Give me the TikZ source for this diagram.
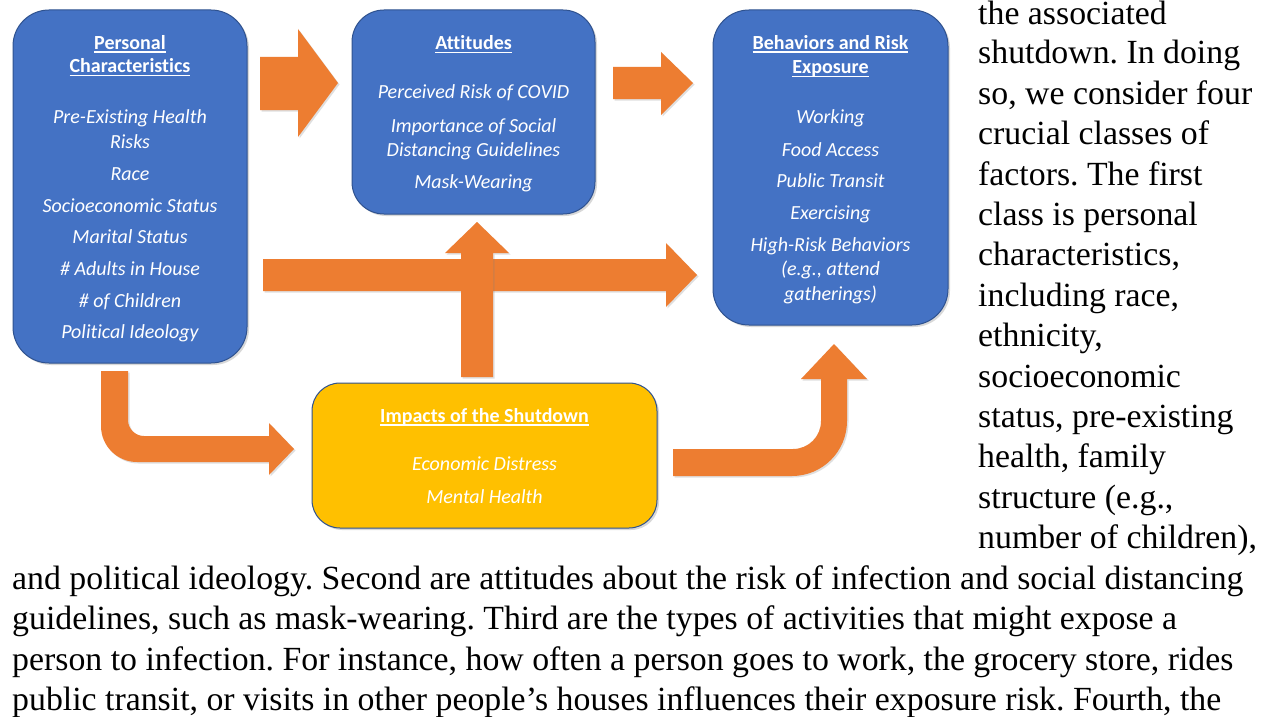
\documentclass[tikz,border=0pt]{standalone}
\usepackage{fontspec}
\setmainfont{Liberation Serif}
\newfontfamily\calfont[Ligatures={NoCommon}]{Carlito}
\usetikzlibrary{shadows}
\definecolor{boxblue}{HTML}{4472C4}
\definecolor{boxedge}{HTML}{2F528F}
\definecolor{boxyellow}{HTML}{FFC000}
\definecolor{arroworange}{HTML}{ED7D31}
\newcommand\myul[1]{\setbox0\hbox{#1}\rlap{\rule[-3.5pt]{\wd0}{1.1pt}}\box0}
\frenchspacing
\begin{document}
\begin{tikzpicture}[x=1pt,y=-1pt,
  box/.style={draw=boxedge, line width=1pt, minimum width=#1, inner sep=0pt,
    drop shadow={shadow xshift=2pt,shadow yshift=-2pt,opacity=.3}},
  bluebox/.style={box=#1, fill=boxblue},
  yellowbox/.style={box=#1, fill=boxyellow},
  ttl/.style={text=white, font=\calfont\bfseries\fontsize{20}{24}\selectfont, anchor=base, inner sep=0pt},
  itm/.style={text=white, font=\calfont\itshape\fontsize{20}{24}\selectfont, anchor=base, inner sep=0pt},
  body/.style={font=\fontsize{33.8}{40}\selectfont, anchor=base west, inner sep=0pt},
  blockarrow/.style={fill=arroworange, drop shadow={shadow xshift=1.5pt,shadow yshift=-1.5pt,opacity=.25}}
]
\useasboundingbox[fill=white] (0,0) rectangle (1269,717);

% arrows
\fill[blockarrow] (260,57) -- (298,57) -- (298,29) -- (338,83) -- (298,137) -- (298,110) -- (260,110) -- cycle;
\fill[blockarrow] (613,67) -- (661,67) -- (661,52) -- (693,83) -- (661,115) -- (661,99) -- (613,99) -- cycle;
\fill[blockarrow] (263,259) -- (666,259) -- (666,243) -- (697,275) -- (666,307) -- (666,291) -- (263,291) -- cycle;
\fill[blockarrow] (461,377) -- (461,253) -- (445,253) -- (477,222) -- (509,253) -- (493,253) -- (493,377) -- cycle;
\fill[blockarrow] (101,371) -- (128,371) -- (128,420) .. controls (128,428.8) and (135.2,436) .. (144,436) -- (269,436) -- (269,423) -- (294,449) -- (269,475) -- (269,462) -- (137,462) .. controls (117.1,462) and (101,445.9) .. (101,426) -- cycle;
\fill[blockarrow] (673,449) -- (793,449) .. controls (808.5,449) and (821,436.5) .. (821,421) -- (821,379) -- (801,379) -- (834,344) -- (867,379) -- (847,379) -- (847,421) .. controls (847,451.4) and (822.4,476) .. (792,476) -- (673,476) -- cycle;

% boxes
\node[bluebox=234pt, minimum height=353pt, rounded corners=36pt] (pc) at (130,186.5) {};
\node[bluebox=243pt, minimum height=204pt, rounded corners=32pt] (at) at (473.5,112) {};
\node[bluebox=235pt, minimum height=315pt, rounded corners=36pt] (be) at (830.5,167.5) {};
\node[yellowbox=345pt, minimum height=145pt, rounded corners=28pt] (im) at (484.5,455.5) {};

% personal characteristics
\node[ttl] (pc1) at (130,49) {\myul{Personal}};
\node[ttl] (pc2) at (130,73) {\myul{Characteristics}};
\node[itm] (pc3) at (130,123) {Pre-Existing Health};
\node[itm] (pc4) at (130,148) {Risks};
\node[itm] (pc5) at (130,180) {Race};
\node[itm] (pc6) at (130,212) {Socioeconomic Status};
\node[itm] (pc7) at (130,243) {Marital Status};
\node[itm] (pc8) at (130,275) {\# Adults in House};
\node[itm] (pc9) at (130,307) {\# of Children};
\node[itm] (pc10) at (130,338) {Political Ideology};

% attitudes
\node[ttl] (at1) at (473.5,50) {\myul{Attitudes}};
\node[itm] (at2) at (473.5,99) {Perceived Risk of COVID};
\node[itm] (at3) at (473.5,132) {Importance of Social};
\node[itm] (at4) at (473.5,156) {Distancing Guidelines};
\node[itm] (at5) at (473.5,188) {Mask-Wearing};

% behaviors
\node[ttl] (be1) at (830.5,49) {\myul{Behaviors and Risk}};
\node[ttl] (be2) at (830.5,74) {\myul{Exposure}};
\node[itm] (be3) at (830.5,123) {Working};
\node[itm] (be4) at (830.5,156) {Food Access};
\node[itm] (be5) at (830.5,187) {Public Transit};
\node[itm] (be6) at (830.5,219) {Exercising};
\node[itm] (be7) at (830.5,251) {High-Risk Behaviors};
\node[itm] (be8) at (830.5,275) {(e.g., attend};
\node[itm] (be9) at (830.5,300) {gatherings)};

% impacts
\node[ttl] (im1) at (484.5,422) {\myul{Impacts of the Shutdown}};
\node[itm] (im2) at (484.5,470) {Economic Distress};
\node[itm] (im3) at (484.5,503) {Mental Health};

% body text
\node[body] (t1) at (978,24.5) {the associated};
\node[body] (t2) at (978,63.5) {shutdown. In doing};
\node[body] (t3) at (978,104) {so, we consider four};
\node[body] (t4) at (978,144) {crucial classes of};
\node[body] (t5) at (978,185) {factors. The first};
\node[body] (t6) at (978,225) {class is personal};
\node[body] (t7) at (978,265) {characteristics,};
\node[body] (t8) at (978,306) {including race,};
\node[body] (t9) at (978,346) {ethnicity,};
\node[body] (t10) at (978,387) {socioeconomic};
\node[body] (t11) at (978,427) {status, pre-existing};
\node[body] (t12) at (978,467) {health, family};
\node[body] (t13) at (978,508) {structure (e.g.,};
\node[body] (t14) at (978,548) {number of children),};
\node[body] (t15) at (12,589) {and political ideology. Second are attitudes about the risk of infection and social distancing};
\node[body] (t16) at (12,629) {guidelines, such as mask-wearing. Third are the types of activities that might expose a};
\node[body] (t17) at (12,670) {person to infection. For instance, how often a person goes to work, the grocery store, rides};
\node[body] (t18) at (12,710) {public transit, or visits in other people’s houses influences their exposure risk. Fourth, the};
\end{tikzpicture}
\end{document}
